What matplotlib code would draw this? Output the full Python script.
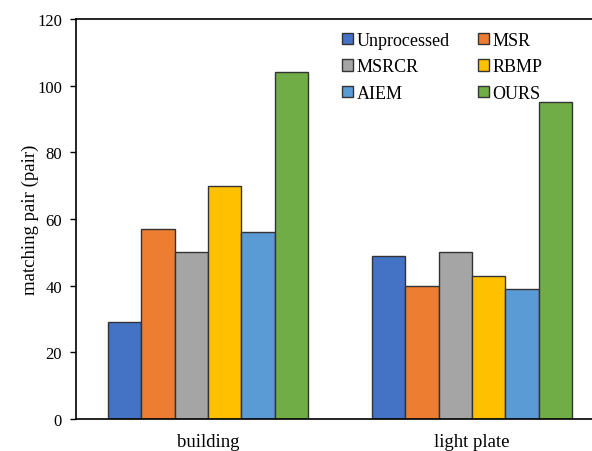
import numpy as np
import matplotlib.pyplot as plt

plt.rcParams['font.family'] = ['Liberation Serif', 'DejaVu Serif']

categories = ['building', 'light plate']
methods = ['Unprocessed', 'MSR', 'MSRCR', 'RBMP', 'AIEM', 'OURS']
values = {
    'Unprocessed': [29, 49],
    'MSR': [57, 40],
    'MSRCR': [50, 50],
    'RBMP': [70, 43],
    'AIEM': [56, 39],
    'OURS': [104, 95],
}
colors = ['#4472C4', '#ED7D31', '#A5A5A5', '#FFC000', '#5B9BD5', '#70AD47']

fig = plt.figure(figsize=(5.92, 4.52), dpi=100)
ax = fig.add_axes([76 / 592, 32 / 452, 528 / 592, 400 / 452])

x = np.arange(len(categories))
w = 0.126
bars = []
for i, m in enumerate(methods):
    b = ax.bar(x + (i - 2.5) * w, values[m], w, color=colors[i],
               edgecolor='#333333', linewidth=1.0, label=m)
    bars.append(b)

ax.set_xlim(-0.5, 1.5)
ax.set_ylim(0, 120)
ax.set_yticks(range(0, 121, 20))
ax.set_xticks(x)
ax.set_xticklabels(categories, fontsize=13.5)
ax.tick_params(axis='x', length=0, pad=10)
ax.tick_params(axis='y', labelsize=12, length=4, width=1, direction='out', pad=6)
ax.set_ylabel('matching pair (pair)', fontsize=13.5, labelpad=-1)
for s in ['left', 'bottom', 'top', 'right']:
    ax.spines[s].set_linewidth(1.2)

# legend filled row by row, like the original
order = [0, 2, 4, 1, 3, 5]
ax.legend([bars[i] for i in order], [methods[i] for i in order],
          ncol=2, loc='upper left', bbox_to_anchor=(0.4735, 1.008), frameon=False,
          fontsize=13, handlelength=0.6, handleheight=0.6, handletextpad=0.2,
          columnspacing=1.55, labelspacing=0.52)

plt.savefig('out.png')
